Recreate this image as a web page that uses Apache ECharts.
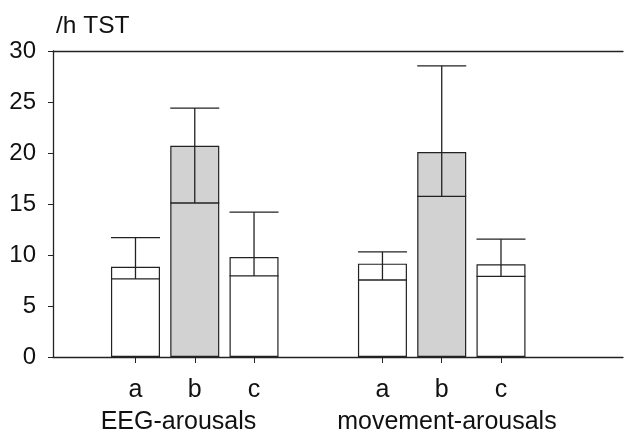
<!DOCTYPE html>
<html>
<head>
<meta charset="utf-8">
<script src="https://cdn.jsdelivr.net/npm/echarts@6/dist/echarts.min.js"></script>
<style>html,body{margin:0;padding:0;background:#fff}#c{width:624px;height:440px}</style>
</head>
<body>
<div id="c"></div>
<script>
// ---- data ----
var groups = ['EEG-arousals', 'movement-arousals'];
var letters = ['a', 'b', 'c'];
var barTop   = [8.85, 20.7, 9.8, 9.15, 20.1, 9.1];   // bar height
var innerVal = [7.65, 15.1, 7.95, 7.55, 15.75, 7.9]; // inner line
var whisker  = [11.7, 24.4, 14.2, 10.3, 28.55, 11.55]; // upper error bar
var yTicks   = [0, 5, 10, 15, 20, 25, 30];
var yUnit    = '/h TST';

// ---- layout helpers ----
var slot = 0.24; // spacing between bars of a group, in group units
var xPos = [];
var fills = [];
groups.forEach(function (g, gi) {
  letters.forEach(function (l, li) {
    xPos.push(gi + (li - 1) * slot);
    fills.push(l === 'b' ? '#d2d2d2' : '#ffffff');
  });
});
var BAR_W = 49;
var LINE = '#222';
var FONT = 'Liberation Sans, Arial, sans-serif';
var XMIN = -0.574, XMAX = 1.734;

function barData() {
  return xPos.map(function (x, i) {
    return { value: [x, barTop[i]], itemStyle: { color: fills[i] } };
  });
}
function errData() {
  return xPos.map(function (x, i) { return [x, innerVal[i], whisker[i]]; });
}
function letterFor(v) {
  for (var i = 0; i < xPos.length; i++) {
    if (Math.abs(xPos[i] - v) < 1e-6) return letters[i % letters.length];
  }
  return '';
}
var groupLabelPos = [-0.066, 1.021];
function groupFor(v) {
  for (var i = 0; i < groupLabelPos.length; i++) {
    if (Math.abs(groupLabelPos[i] - v) < 1e-6) return groups[i];
  }
  return '';
}

var chart = echarts.init(document.getElementById('c'), null, { renderer: 'canvas' });
var option = {
  animation: false,
  backgroundColor: '#fff',
  textStyle: { fontFamily: FONT },
  graphic: [{
    type: 'text', left: 56, top: 14,
    style: { text: yUnit, fontSize: 24.5, fontFamily: FONT, fill: '#111' }
  }],
  grid: { left: 53, right: 1, top: 51, bottom: 83, containLabel: false },
  xAxis: [{
    type: 'value', position: 'bottom', min: XMIN, max: XMAX,
    splitLine: { show: false },
    axisLine: { show: true, onZero: false, lineStyle: { color: LINE, width: 1.3 } },
    axisTick: { show: true, length: 6, customValues: xPos, lineStyle: { color: LINE, width: 1 } },
    axisLabel: { show: true, customValues: xPos, formatter: letterFor, margin: 21,
      fontSize: 25, color: '#111', fontFamily: FONT }
  }, {
    type: 'value', position: 'top', min: XMIN, max: XMAX,
    splitLine: { show: false },
    axisLine: { show: true, onZero: false, lineStyle: { color: LINE, width: 1.3 } },
    axisTick: { show: false }, axisLabel: { show: false }
  }, {
    type: 'value', position: 'bottom', min: XMIN, max: XMAX,
    splitLine: { show: false },
    axisLine: { show: false, onZero: false },
    axisTick: { show: false },
    axisLabel: { show: true, customValues: groupLabelPos, formatter: groupFor, margin: 53,
      fontSize: 25, color: '#111', fontFamily: FONT }
  }],
  yAxis: {
    type: 'value', min: 0, max: 30, interval: 5,
    splitLine: { show: false },
    axisLine: { show: true, onZero: false, lineStyle: { color: LINE, width: 1.3 } },
    axisTick: { show: true, length: 5, lineStyle: { color: LINE } },
    axisLabel: { margin: 17, fontSize: 24, color: '#111', fontFamily: FONT,
      formatter: function (v) { return yTicks.indexOf(v) >= 0 ? String(v) : ''; } }
  },
  series: [{
    type: 'bar', barWidth: BAR_W, xAxisIndex: 0,
    itemStyle: { borderColor: LINE, borderWidth: 1.2 },
    data: barData()
  }, {
    type: 'custom', xAxisIndex: 0, z: 5,
    data: errData(),
    encode: { x: 0, y: [1, 2] },
    renderItem: function (params, api) {
      var lo = api.coord([api.value(0), api.value(1)]);
      var hi = api.coord([api.value(0), api.value(2)]);
      var hw = BAR_W / 2;
      var st = { stroke: LINE, lineWidth: 1.3 };
      return { type: 'group', children: [
        { type: 'line', shape: { x1: lo[0] - hw, y1: lo[1], x2: lo[0] + hw, y2: lo[1] }, style: st },
        { type: 'line', shape: { x1: lo[0], y1: lo[1], x2: hi[0], y2: hi[1] }, style: st },
        { type: 'line', shape: { x1: hi[0] - hw, y1: hi[1], x2: hi[0] + hw, y2: hi[1] }, style: st }
      ] };
    }
  }]
};
chart.setOption(option);
</script>
</body>
</html>
